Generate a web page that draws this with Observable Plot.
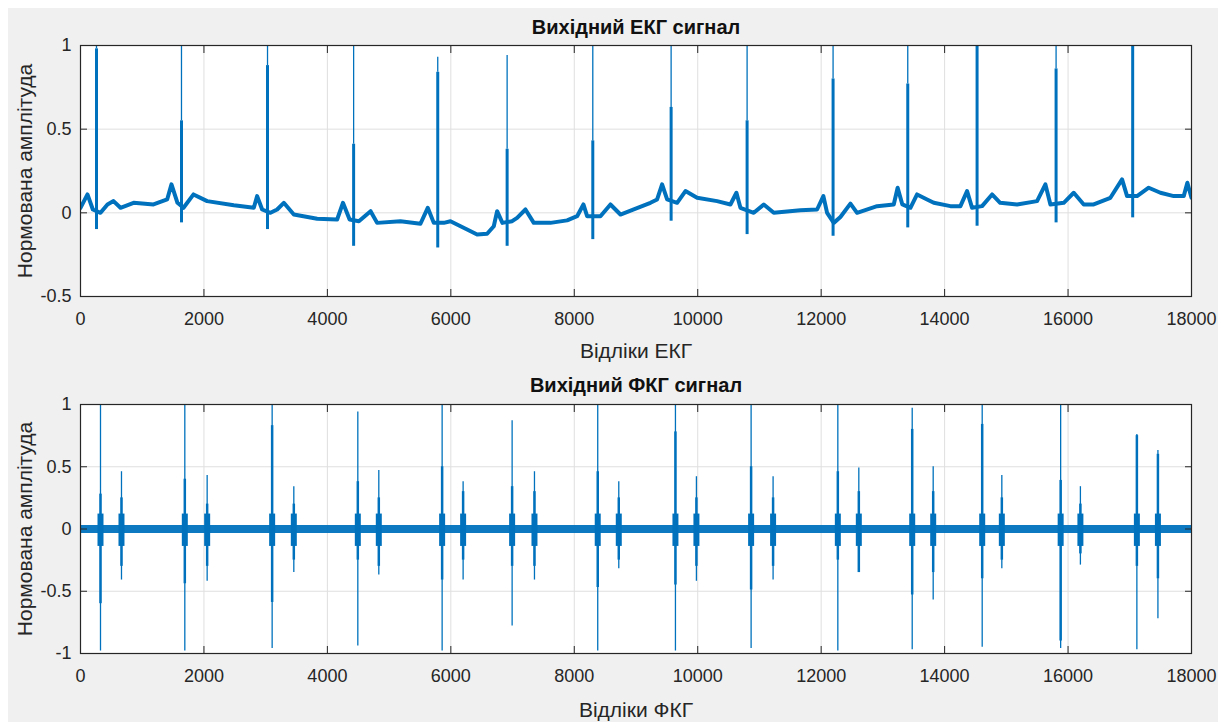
<!DOCTYPE html>
<html><head><meta charset="utf-8">
<script src="https://cdn.jsdelivr.net/npm/d3@7"></script>
<script src="https://cdn.jsdelivr.net/npm/@observablehq/plot@0.6"></script>
<style>
body{margin:0;background:#fff;}
#wrap{position:relative;width:1228px;height:722px;overflow:hidden;}
#panel{position:absolute;left:8px;top:8px;width:1210px;height:714px;background:#f0f0f0;}
#c1{position:absolute;left:0;top:0;}
#c2{position:absolute;left:0;top:365px;}
</style></head><body>
<div id="wrap"><div id="panel"></div><div id="c1"></div><div id="c2"></div></div>
<script>
// ---- data ----
const xTicks = [0, 2000, 4000, 6000, 8000, 10000, 12000, 14000, 16000, 18000];
const ecgYTicks = [-0.5, 0, 0.5, 1];
const pcgYTicks = [-1, -0.5, 0, 0.5, 1];

// ECG baseline (incl. P and T waves)
const ecgX = [0,113,200,324,437,535,648,860,1183,1404,1474,1571,1669,1831,2052,2484,2808,2862,2943,3078,3186,3294,3456,3834,4158,4252,4360,4510,4700,4806,5184,5508,5626,5724,5886,5994,6264,6426,6588,6696,6750,6836,6993,7074,7209,7344,7614,7884,8046,8148,8208,8424,8586,8748,8964,9234,9342,9423,9504,9666,9801,9990,10314,10530,10627,10692,10908,11070,11232,11664,11934,12036,12096,12204,12312,12474,12582,12906,13176,13239,13315,13446,13554,13716,13824,14094,14256,14364,14445,14607,14769,14900,15174,15498,15633,15714,15930,16092,16254,16416,16686,16875,16956,17118,17307,17496,17712,17874,17933,18000];
const ecgY = [0.03,0.11,0.02,0.0,0.05,0.07,0.03,0.06,0.05,0.08,0.17,0.06,0.03,0.11,0.07,0.045,0.03,0.1,0.02,0.0,0.02,0.06,-0.01,-0.035,-0.04,0.06,-0.04,-0.05,0.01,-0.06,-0.05,-0.065,0.03,-0.06,-0.06,-0.05,-0.1,-0.13,-0.125,-0.08,0.01,-0.06,-0.05,-0.03,0.02,-0.06,-0.06,-0.045,-0.02,0.05,-0.02,-0.02,0.05,-0.01,0.02,0.06,0.08,0.17,0.08,0.06,0.13,0.09,0.07,0.05,0.12,0.03,0.0,0.05,0.0,0.015,0.02,0.1,0.0,-0.06,-0.025,0.055,0.0,0.04,0.05,0.15,0.05,0.03,0.11,0.08,0.06,0.04,0.04,0.13,0.03,0.04,0.11,0.06,0.05,0.07,0.17,0.05,0.06,0.12,0.05,0.05,0.09,0.2,0.1,0.1,0.15,0.12,0.1,0.1,0.18,0.09];

// ECG R-peaks
const ecgBeatX = [259,1636,3030,4425,5788,6912,8300,9569,10800,12193,13403,14526,15806,17047];
const ecgBeatPeak = [1,1,1,1,0.93,0.94,1,1,1,1,1,1,1,1];
const ecgBeatDense = [0.98,0.55,0.88,0.41,0.84,0.38,0.43,0.63,0.55,0.8,0.77,1,0.86,1];
const ecgBeatDip = [-0.1,-0.06,-0.1,-0.2,-0.21,-0.2,-0.16,-0.05,-0.13,-0.14,-0.09,-0.08,-0.06,-0.03];

// PCG baseline (noise band around zero)
const pcgX = [0, 18000];
const pcgY = [0, 0];
const pcgBurstLo = -0.14, pcgBurstHi = 0.12;

// PCG heart sounds (S1, S2 pairs)
const pcgSoundX = [324,664,1690,2052,3105,3456,4493,4833,5859,6199,6993,7355,8380,8721,9639,9979,10865,11221,12270,12610,13475,13815,14609,14927,15880,16200,17115,17456];
const pcgPeak = [1,0.46,1,0.43,1,0.34,0.94,0.47,1,0.38,0.87,0.46,1,0.38,1,0.42,1,0.42,1,0.49,0.97,0.5,1,0.43,1,0.34,0.76,0.63];
const pcgTrough = [-0.98,-0.41,-0.98,-0.42,-0.96,-0.35,-0.94,-0.37,-0.98,-0.41,-0.78,-0.41,-0.98,-0.32,-0.98,-0.42,-0.96,-0.41,-0.98,-0.35,-0.97,-0.57,-0.95,-0.32,-0.96,-0.29,-0.97,-0.72];
const pcgDenseHi = [0.28,0.25,0.4,0.2,0.83,0.2,0.38,0.25,0.5,0.3,0.34,0.3,0.46,0.25,0.78,0.25,0.5,0.25,0.46,0.3,0.8,0.3,0.84,0.25,0.39,0.2,0.75,0.6];
const pcgDenseLo = [-0.6,-0.3,-0.44,-0.3,-0.59,-0.25,-0.25,-0.3,-0.41,-0.25,-0.3,-0.3,-0.47,-0.25,-0.45,-0.3,-0.49,-0.3,-0.25,-0.35,-0.53,-0.35,-0.4,-0.25,-0.9,-0.2,-0.3,-0.4];

// ---- build tables ----
const ecgRows = ecgX.map((x, i) => ({x, y: ecgY[i]}));
const ecgBeats = ecgBeatX.map((x, i) => ({x, peak: ecgBeatPeak[i], dense: ecgBeatDense[i], dip: ecgBeatDip[i]}));
const pcgRows = pcgX.map((x, i) => ({x, y: pcgY[i]}));
const pcgSounds = pcgSoundX.map((x, i) => ({x, peak: pcgPeak[i], trough: pcgTrough[i], hi: pcgDenseHi[i], lo: pcgDenseLo[i]}));

const BLUE = "#0072BD";
const AX = "#262626";
const FONT = "'Liberation Sans', Arial, Helvetica, sans-serif";
const fmt = d => String(d);

function chart({height, marginTop, marginBottom, yDomain, yTicks, title, titleDy, xlabel, xlabelDy, data}) {
  return Plot.plot({
    width: 1228, height, marginTop, marginBottom, marginLeft: 80, marginRight: 37,
    style: {background: "transparent", fontFamily: FONT, fontSize: "18px", color: AX, overflow: "visible"},
    x: {domain: [0, 18000]},
    y: {domain: yDomain},
    marks: [
      Plot.frame({fill: "white", stroke: "none"}),
      Plot.gridX(xTicks, {stroke: "#dfdfdf", strokeOpacity: 1}),
      Plot.gridY(yTicks, {stroke: "#dfdfdf", strokeOpacity: 1}),
      ...data,
      Plot.axisX(xTicks, {anchor: "bottom", tickSize: -7, tickPadding: 23, tickFormat: fmt, stroke: AX, fill: AX, fontSize: 18, label: null}),
      Plot.axisX(xTicks, {anchor: "top", tickSize: -7, stroke: AX, fill: "none", label: null}),
      Plot.axisY(yTicks, {anchor: "left", tickSize: -7, tickPadding: 16, tickFormat: fmt, stroke: AX, fill: AX, fontSize: 18, label: null}),
      Plot.axisY(yTicks, {anchor: "right", tickSize: -7, stroke: AX, fill: "none", label: null}),
      Plot.frame({stroke: AX, strokeWidth: 1.2}),
      Plot.text([title], {frameAnchor: "top", lineAnchor: "middle", textAnchor: "middle", dy: titleDy, fontWeight: "bold", fontSize: 20, fill: "#111"}),
      Plot.text([xlabel], {frameAnchor: "bottom", lineAnchor: "middle", textAnchor: "middle", dy: xlabelDy, fontSize: 21, fill: AX}),
      Plot.text(["Нормована амплітуда"], {frameAnchor: "left", lineAnchor: "middle", textAnchor: "middle", rotate: -90, dx: -55, fontSize: 21, fill: AX})
    ]
  });
}

const ecgMarks = [
  Plot.line(ecgRows, {x: "x", y: "y", stroke: BLUE, strokeWidth: 4, clip: true}),
  Plot.ruleX(ecgBeats, {x: "x", y1: "dip", y2: "dense", stroke: BLUE, strokeWidth: 3, clip: true}),
  Plot.ruleX(ecgBeats, {x: "x", y1: "dense", y2: "peak", stroke: BLUE, strokeWidth: 1.3, clip: true})
];

const pcgMarks = [
  Plot.line(pcgRows, {x: "x", y: "y", stroke: BLUE, strokeWidth: 8, strokeOpacity: 0.95, clip: true}),
  Plot.ruleX(pcgSounds, {x: "x", y1: pcgBurstLo, y2: pcgBurstHi, stroke: BLUE, strokeWidth: 6, clip: true}),
  Plot.ruleX(pcgSounds, {x: "x", y1: "lo", y2: "hi", stroke: BLUE, strokeWidth: 2.5, clip: true}),
  Plot.ruleX(pcgSounds, {x: "x", y1: "trough", y2: "peak", stroke: BLUE, strokeWidth: 1.3, clip: true})
];

document.getElementById("c1").append(chart({
  height: 365, marginTop: 45, marginBottom: 69, yDomain: [-0.5, 1], yTicks: ecgYTicks,
  title: "Вихідний ЕКГ сигнал", titleDy: -18, xlabel: "Відліки ЕКГ", xlabelDy: 55, data: ecgMarks
}));
document.getElementById("c2").append(chart({
  height: 357, marginTop: 39, marginBottom: 69, yDomain: [-1, 1], yTicks: pcgYTicks,
  title: "Вихідний ФКГ сигнал", titleDy: -19, xlabel: "Відліки ФКГ", xlabelDy: 57, data: pcgMarks
}));
</script>
</body></html>
